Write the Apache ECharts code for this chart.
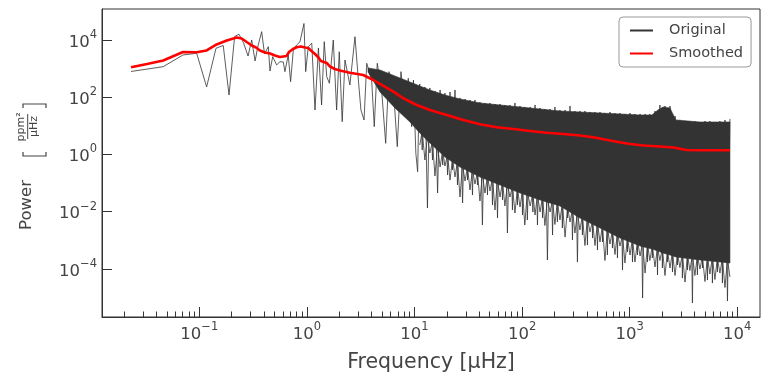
<!DOCTYPE html>
<html><head><meta charset="utf-8">
<script src="https://cdn.jsdelivr.net/npm/echarts@6/dist/echarts.min.js"></script>
<style>html,body{margin:0;padding:0;background:#fff}#c{width:769px;height:382px}</style>
</head><body><div id="c"></div>
<script>
// Original periodogram (sparse low-frequency part, then top/bottom spikes of the dense part)
const origFreq = [0.0232,0.0462,0.0706,0.0946,0.117,0.143,0.167,0.189,0.213,0.234,0.257,0.284,0.307,0.330,0.353,0.380,0.404,0.438,0.454,0.481,0.524,0.562,0.604,0.625,0.671,0.706,0.748,0.803,0.863,0.940,0.975,1.03,1.11,1.19,1.28,1.37,1.45,1.53,1.62,1.76,1.89,2.00,2.13,2.26,2.51,2.80,3.01,3.18,3.40,3.60,4.00,4.23,4.51,4.95,5.40,5.79,6.35,6.92,7.49,8.17,8.76,9.42,9.78,10.3,10.7,11.1,
11.2,11.8,12.5,13.2,13.9,14.7,15.5,16.4,17.3,18.3,19.2,20.3,21.4,22.6,23.8,25.1,26.5,28.0,29.5,31.1,32.8,34.6,36.5,38.5,40.6,42.8,45.2,47.7,50.3,53.1,56.0,59.1,62.4,65.8,69.3,73.1,77.2,81.4,85.9,90.6,95.7,101,106,112,119,126,132,139,147,155,163,172,182,192,202,213,225,237,251,265,279,294,310,327,345,364,384,405,428,452,476,502,530,559,589,621,656,692,730,770,813,858,904,954,1007,1062,1120,1182,1250,1319,1390,1466,1540,1625,1720,1815,1910,2015,2130,2247,2370,2500,2640,2785,2930,3091,3270,3450,3630,3830,4040,4262,4500,4748,5010,5286,5570,5876,6200,6541,6900,7280,7690,8113,8550];
const origPower = [792,1165,2990,3430,228,5130,6430,119,13250,15800,8180,2750,10000,1845,6680,19500,3240,5840,824,2610,1340,1740,1700,780,2990,348,4470,6680,8710,37700,780,5840,7680,35.6,5250,53.3,8710,521,306,10000,35.6,3890,13.9,2000,267,13000,398,35.6,16,1530,398,9.3,1530,179,2.44,780,233,1.86,780,35.6,458,9.3,398,1.09,0.248,233,
290,1.43,228,0.0134,210,0.637,165,0.0447,179,0.426,140,0.190,152,0.285,179,0.0851,93.8,0.0200,86.5,0.127,79.8,0.0380,79.8,0.0851,67.9,0.00340,62.7,0.0380,62.7,0.0170,57.8,0.00597,57.8,0.0255,53.3,0.00179,53.3,0.0114,62.7,0.0170,49.2,0.00760,45.4,0.00508,45.4,0.00968,53.3,0.00340,41.9,0.00597,38.6,0.000203,38.6,0.00152,45.4,0.00433,35.6,0.00267,35.6,0.00597,49.2,0.00102,32.9,0.000173,32.9,0.00152,32.9,0.000679,30.4,0.00119,30.4,0.000454,30.4,0.000865,28.0,0.000304,30.4,0.000533,28.0,0.000239,28.0,0.0000908,25.9,0.000386,28.0,0.000173,25.9,0.000304,25.9,0.00000953,25.9,0.000173,25.9,0.000239,32.9,0.0000607,53.3,0.000107,49.2,0.000173,49.2,0.0000773,22.0,0.000136,16.0,0.0000476,14.7,0.0000908,14.7,0.00000637,14.7,0.0000607,13.6,0.000107,14.7,0.0000406,14.7,0.0000318,13.6,0.0000773,14.7,0.0000318,16.0,0.00000748,17.3];

// Further low-side spikes of the original spectrum (fringe under the dense band)
const fringeFreq = [11.2,11.8,12.5,13.2,13.9,14.7,15.5,16.4,17.3,18.3,19.2,20.3,21.4,22.6,23.8,25.1,26.5,28.0,29.5,31.1,32.8,34.6,36.5,38.5,40.6,42.8,45.2,47.7,50.3,53.1,56.0,59.1,62.4,65.8,69.3,73.1,77.2,81.4,85.9,90.6,95.7,101,106,112,119,126,132,139,147,155,163,172,182,192,202,213,225,237,251,265,279,294,310,327,345,364,384,405,428,452,476,502,530,559,589,621,656,692,730,770,813,858,904,954,1007,1062,1120,1182,1250,1319,1390,1466,1540,1625,1720,1815,1910,2015,2130,2247,2370,2500,2640,2785,2930,3091,3270,3450,3630,3830,4040,4262,4500,4748,5010,5286,5570,5876,6200,6541,6900,7280,7690,8113,8550];
const fringePower = [2.13,6.32,0.637,4.23,1.12,2.82,0.176,1.97,0.362,1.37,0.393,0.993,0.127,0.748,0.162,0.565,0.0324,0.444,0.117,0.362,0.0569,0.296,0.0923,0.243,0.0235,0.207,0.0447,0.176,0.0525,0.150,0.0114,0.127,0.0324,0.108,0.0157,0.0923,0.0324,0.0785,0.00893,0.0668,0.0145,0.0569,0.00340,0.0505,0.0157,0.0447,0.00760,0.0380,0.00968,0.0330,0.00327,0.0293,0.00968,0.0259,0.00354,0.0230,0.00508,0.0192,0.00129,0.0151,0.00433,0.0118,0.00179,0.00931,0.00228,0.00745,0.000653,0.00610,0.00194,0.00499,0.000653,0.00407,0.000865,0.00333,0.000195,0.00272,0.000736,0.00223,0.000316,0.00182,0.000627,0.00152,0.000160,0.00129,0.000304,0.00110,0.000173,0.000938,0.000281,0.000832,0.0000713,0.000752,0.000195,0.000665,0.000116,0.000590,0.000195,0.000513,0.0000583,0.000446,0.000107,0.000395,0.0000583,0.000356,0.000111,0.000336,0.0000345,0.000323,0.0000873,0.000304,0.0000583,0.000286,0.0000984,0.000275,0.0000360,0.000264,0.0000658,0.000254,0.0000423,0.000243,0.0000713,0.000234,0.0000222,0.000224,0.0000516];

// Dense core of the original spectrum: upper and lower edges of the solid band
const bandFreq  = [3.70,4.78,6.59,9.08,11.2,13.9,19.2,26.5,40.6,62.4,95.7,147,225,345,530,813,1250,1610,1830,2040,2370,2520,2690,4500,8550];
const bandUpper = [1050,893,551,340,247,179,119,86.5,62.7,53.3,45.4,38.6,32.9,30.4,28.0,25.9,23.9,23.9,35.6,45.4,41.9,25.9,16.0,13.6,13.6];
const bandLower = [760,152,41.9,13.6,5.60,2.51,0.811,0.362,0.162,0.0851,0.0447,0.0255,0.0157,0.00597,0.00267,0.00119,0.000627,0.000492,0.000419,0.000356,0.000304,0.000281,0.000259,0.000203,0.000160];

// Smoothed periodogram
const smoothFreq  = [0.0232,0.0327,0.0462,0.0706,0.0946,0.117,0.145,0.180,0.223,0.248,0.276,0.307,0.337,0.366,0.408,0.454,0.505,0.562,0.649,0.682,0.743,0.803,0.881,0.959,1.03,1.09,1.19,1.28,1.35,1.53,1.64,1.82,2.03,2.51,3.34,4.15,5.14,6.36,7.87,10.5,13.9,20.0,28.4,40.6,58.1,82.8,119,169,242,345,459,656,938,1340,1910,2540,3380,4500,8550];
const smoothPower = [1110,1450,1920,3800,3710,4300,6970,9610,12200,11300,8510,6430,5470,4300,3660,3370,2870,2550,2760,3800,4840,5560,5930,5470,5250,4300,3240,2440,1840,1570,1180,968,859,719,597,399,247,156,91.6,53.3,35.6,23.9,16.0,11.3,8.87,7.73,6.58,5.74,5.16,4.58,3.96,3.06,2.40,2.05,1.89,1.74,1.43,1.39,1.39];

// Axes
const xMin = 0.01247, xMax = 16270;
const yMin = 2.07e-6, yMax = 1.21e5;
const xMajor = [0.1, 1, 10, 100, 1000, 10000];
const yMajor = [1e-4, 1e-2, 1, 1e2, 1e4];
const xMinor = [];
for (let k = -2; k <= 4; k++) for (let m = 2; m <= 9; m++) {
  const v = m * Math.pow(10, k);
  if (v > xMin && v < xMax) xMinor.push(v);
}

const FONT = 'DejaVu Sans';
const TXT = '#444444';
const AX = '#333333';
function expLabel(v) {
  const e = Math.round(Math.log10(v));
  return '{b|10}{s|' + (e < 0 ? '\u2212' + (-e) : e) + '}';
}
const rich = {
  b: {fontSize: 16.5, fontFamily: FONT, color: TXT, lineHeight: 22, verticalAlign: 'bottom'},
  s: {fontSize: 11.5, fontFamily: FONT, color: TXT, lineHeight: 13, verticalAlign: 'top'}
};

const chart = echarts.init(document.getElementById('c'), null, {renderer: 'canvas'});
chart.setOption({
  animation: false,
  backgroundColor: '#ffffff',
  grid: {left: 102, right: 9, top: 9, bottom: 65, show: true, borderColor: AX, borderWidth: 1, backgroundColor: 'transparent'},
  legend: {
    data: ['Original', 'Smoothed'], orient: 'vertical', left: 619, top: 17,
    padding: [6, 8, 6, 10], itemWidth: 23, itemHeight: 14, itemGap: 8,
    itemStyle: {opacity: 0},
    backgroundColor: 'rgba(255,255,255,0.85)', borderColor: '#999', borderWidth: 1, borderRadius: 4,
    textStyle: {fontSize: 14.5, fontFamily: FONT, color: TXT, padding: [0, 0, 0, 11]}
  },
  xAxis: [{
    type: 'log', min: xMin, max: xMax, position: 'bottom', z: 10,
    axisLine: {show: true, onZero: false, lineStyle: {color: AX, width: 1}},
    axisTick: {show: true, inside: true, length: 10, customValues: xMajor, lineStyle: {color: AX, width: 1}},
    axisLabel: {customValues: xMajor, formatter: expLabel, rich: rich, margin: 4},
    splitLine: {show: false}, minorTick: {show: false},
    name: 'Frequency [\u03bcHz]', nameLocation: 'middle', nameGap: 35,
    nameTextStyle: {fontSize: 20.5, fontFamily: FONT, color: TXT}
  }, {
    type: 'log', min: xMin, max: xMax, position: 'bottom', z: 10,
    axisLine: {show: false},
    axisTick: {show: true, inside: true, length: 5.5, customValues: xMinor, lineStyle: {color: AX, width: 1}},
    axisLabel: {show: false}, splitLine: {show: false}
  }],
  yAxis: {
    type: 'log', min: yMin, max: yMax, z: 10,
    axisLine: {show: true, onZero: false, lineStyle: {color: AX, width: 1}},
    axisTick: {show: true, inside: true, length: 10, customValues: yMajor, lineStyle: {color: AX, width: 1}},
    axisLabel: {customValues: yMajor, formatter: expLabel, rich: rich, margin: 5},
    splitLine: {show: false}, minorTick: {show: false}
  },
  graphic: [
    {type: 'text', x: 27, y: 205, rotation: Math.PI / 2, style: {text: 'Power', font: '16.5px "DejaVu Sans"', fill: TXT, align: 'center', verticalAlign: 'middle'}},
    {type: 'polyline', shape: {points: [[23, 152], [23, 156], [46, 156], [46, 152]]}, style: {stroke: TXT, lineWidth: 1.2, fill: null}},
    {type: 'polyline', shape: {points: [[23, 108], [23, 104], [46, 104], [46, 108]]}, style: {stroke: TXT, lineWidth: 1.2, fill: null}},
    {type: 'line', shape: {x1: 27.7, y1: 114, x2: 27.7, y2: 139}, style: {stroke: TXT, lineWidth: 1}},
    {type: 'text', x: 21, y: 127, rotation: Math.PI / 2, style: {text: 'ppm\u00b2', font: '11px "DejaVu Sans"', fill: TXT, align: 'center', verticalAlign: 'middle'}},
    {type: 'text', x: 34.5, y: 126.5, rotation: Math.PI / 2, style: {text: '\u03bcHz', font: '11px "DejaVu Sans"', fill: TXT, align: 'center', verticalAlign: 'middle'}}
  ],
  series: [{
    type: 'custom', name: 'band', silent: true, z: 2, clip: true,
    data: [[bandFreq[0], bandUpper[0]]],
    renderItem: function (params, api) {
      const pts = [];
      for (let i = 0; i < bandFreq.length; i++) pts.push(api.coord([bandFreq[i], bandUpper[i]]));
      for (let i = bandFreq.length - 1; i >= 0; i--) pts.push(api.coord([bandFreq[i], bandLower[i]]));
      return {type: 'polygon', shape: {points: pts}, style: {fill: '#333333', stroke: '#333333', lineWidth: 0.6}};
    }
  }, {
    type: 'line', name: 'Original', z: 3, symbol: 'none', showSymbol: false,
    data: origFreq.map((f, i) => [f, origPower[i]]),
    lineStyle: {color: '#333333', width: 0.8}, itemStyle: {color: '#333333'}
  }, {
    type: 'line', name: 'Original', z: 3, symbol: 'none', showSymbol: false,
    data: fringeFreq.map((f, i) => [f, fringePower[i]]),
    lineStyle: {color: '#333333', width: 0.8}, itemStyle: {color: '#333333'}
  }, {
    type: 'line', name: 'Smoothed', z: 5, symbol: 'none', showSymbol: false,
    data: smoothFreq.map((f, i) => [f, smoothPower[i]]),
    lineStyle: {color: '#ff0000', width: 2.6}, itemStyle: {color: '#ff0000'}
  }]
});
</script></body></html>
